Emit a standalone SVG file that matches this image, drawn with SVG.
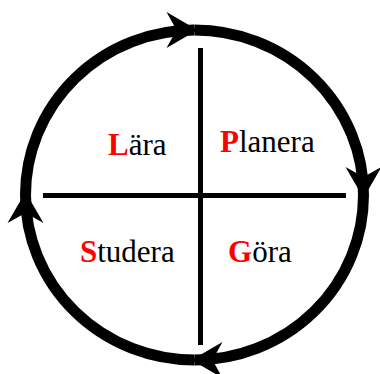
<svg xmlns="http://www.w3.org/2000/svg" width="380" height="374" viewBox="0 0 380 374">
  <style>
    .ring { fill: none; stroke: #000; stroke-width: 11; }
    .div { stroke: #000; stroke-width: 5; }
    .lbl { font-family: "Liberation Serif", "Times New Roman", serif; font-size: 31px; fill: #000; }
    .init { fill: #ff0000; font-weight: bold; }
  </style>
  <defs>
    <marker id="arr" markerUnits="userSpaceOnUse" viewBox="-35 -20 40 40" refX="0" refY="0" markerWidth="40" markerHeight="40" orient="auto">
      <path d="M3,0 L-28,-18 L-18,0 L-28,18 Z" fill="#000"/>
    </marker>
  </defs>
  <rect width="380" height="374" fill="#fff"/>
  <g id="dividers">
    <line class="div" x1="200.5" y1="48" x2="200.5" y2="345"/>
    <line class="div" x1="43" y1="195.5" x2="346" y2="195.5"/>
  </g>
  <g id="connectors">
    <path class="ring" d="M25.5,195 A169,165 0 0 1 194.5,30" marker-end="url(#arr)"/>
    <path class="ring" d="M194.5,30 A169,165 0 0 1 363.5,195" marker-end="url(#arr)"/>
    <path class="ring" d="M363.5,195 A169,165 0 0 1 194.5,360" marker-end="url(#arr)"/>
    <path class="ring" d="M194.5,360 A169,165 0 0 1 25.5,195" marker-end="url(#arr)"/>
  </g>
  <g id="node-lara">
    <text class="lbl" x="108" y="155"><tspan class="init">L</tspan>ära</text>
  </g>
  <g id="node-planera">
    <text class="lbl" x="220" y="152"><tspan class="init">P</tspan>lanera</text>
  </g>
  <g id="node-studera">
    <text class="lbl" x="80" y="262"><tspan class="init">S</tspan>tudera</text>
  </g>
  <g id="node-gora">
    <text class="lbl" x="228" y="262"><tspan class="init">G</tspan>öra</text>
  </g>
</svg>
